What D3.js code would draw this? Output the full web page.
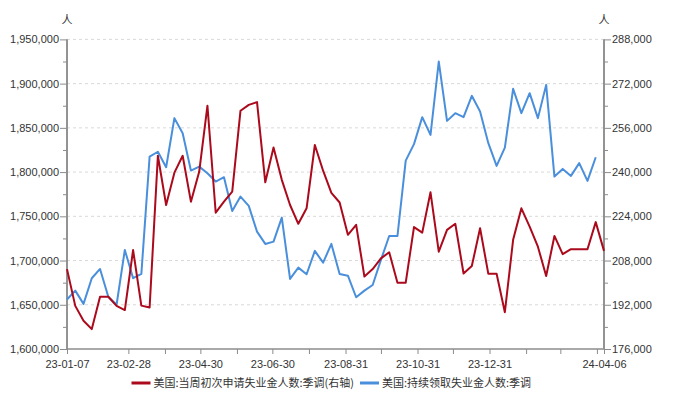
<!DOCTYPE html>
<html>
<head>
<meta charset="utf-8">
<script src="https://cdn.jsdelivr.net/npm/d3@7"></script>
<style>
  body { margin: 0; background: #fff; }
  svg { display: block; font-family: "Noto Sans CJK SC", "Noto Sans", sans-serif; }
  .tick text { fill: #333; font-size: 11px; }
</style>
</head>
<body>
<svg id="chart" width="685" height="396"></svg>
<script>
// weekly dates (Saturday)
const dates = [
  "2023-01-07","2023-01-14","2023-01-21","2023-01-28","2023-02-04","2023-02-11","2023-02-18","2023-02-25",
  "2023-03-04","2023-03-11","2023-03-18","2023-03-25","2023-04-01","2023-04-08","2023-04-15","2023-04-22",
  "2023-04-29","2023-05-06","2023-05-13","2023-05-20","2023-05-27","2023-06-03","2023-06-10","2023-06-17",
  "2023-06-24","2023-07-01","2023-07-08","2023-07-15","2023-07-22","2023-07-29","2023-08-05","2023-08-12",
  "2023-08-19","2023-08-26","2023-09-02","2023-09-09","2023-09-16","2023-09-23","2023-09-30","2023-10-07",
  "2023-10-14","2023-10-21","2023-10-28","2023-11-04","2023-11-11","2023-11-18","2023-11-25","2023-12-02",
  "2023-12-09","2023-12-16","2023-12-23","2023-12-30","2024-01-06","2024-01-13","2024-01-20","2024-01-27",
  "2024-02-03","2024-02-10","2024-02-17","2024-02-24","2024-03-02","2024-03-09","2024-03-16","2024-03-23",
  "2024-03-30","2024-04-06"
];

// 当周初次申请失业金人数 (right axis)
const initialClaims = [
  204900, 191600, 186200, 183200, 194900, 194900, 191600, 190100, 211800, 191700, 191000,
  245900, 228100, 239800, 245900, 229300, 240100, 264000, 225300, 229300, 232900, 262200,
  264300, 265300, 236300, 248900, 237200, 228100, 221300, 226900, 249800, 240500, 232500,
  229000, 217300, 220900, 202200, 204900, 208800, 211000, 200000, 200000, 220100, 218100,
  232700, 211200, 219100, 221300, 203300, 206000, 219700, 203200, 203200, 189300, 215500,
  226900, 220300, 213000, 202400, 216900, 210300, 212100, 212100, 212100, 221900, 211500
];

// 持续领取失业金人数 (left axis)
const continuingClaims = [
  1656000, 1666000, 1651000, 1680000, 1690500, 1659000, 1650000, 1712000, 1680000, 1685000,
  1817500, 1823000, 1805500, 1861000, 1844000, 1801700, 1806200, 1798700, 1789300, 1794200,
  1756100, 1772300, 1761800, 1732700, 1718800, 1721400, 1748500, 1679200, 1692000, 1684500,
  1710900, 1697600, 1718800, 1684800, 1682900, 1658500, 1666000, 1672400, 1700700, 1727800,
  1727800, 1813000, 1831600, 1862100, 1842100, 1925000, 1857900, 1866600, 1862100, 1886200,
  1868400, 1832700, 1807000, 1827700, 1894100, 1866600, 1889200, 1861000, 1898600, 1794900,
  1803600, 1795700, 1810100, 1790000, 1816800
];

const leftTicks = [1600000, 1650000, 1700000, 1750000, 1800000, 1850000, 1900000, 1950000];
const rightTicks = [176000, 192000, 208000, 224000, 240000, 256000, 272000, 288000];
const xTickDates = [
  "2023-01-07","2023-02-28","2023-03-31","2023-04-30","2023-05-31","2023-06-30","2023-07-31",
  "2023-08-31","2023-09-30","2023-10-31","2023-11-30","2023-12-31","2024-01-31","2024-02-29",
  "2024-03-31","2024-04-06"
];
const xLabelDates = ["2023-01-07","2023-02-28","2023-04-30","2023-06-30","2023-08-31","2023-10-31","2023-12-31","2024-04-06"];

const seriesNames = ["美国:当周初次申请失业金人数:季调(右轴)", "美国:持续领取失业金人数:季调"];
const colors = ["#ab0a1c", "#4a8fdb"];

const width = 685, height = 396;
const margin = {top: 39.4, right: 81, bottom: 47, left: 67};

const parse = d3.timeParse("%Y-%m-%d");
const fmtDate = d3.timeFormat("%y-%m-%d");
const dateObjs = dates.map(parse);

const svg = d3.select("#chart");

const x = d3.scaleTime()
  .domain([parse(dates[0]), parse(dates[dates.length - 1])])
  .range([margin.left, width - margin.right]);

const yLeft = d3.scaleLinear()
  .domain([leftTicks[0], leftTicks[leftTicks.length - 1]])
  .range([height - margin.bottom, margin.top]);

const yRight = d3.scaleLinear()
  .domain([rightTicks[0], rightTicks[rightTicks.length - 1]])
  .range([height - margin.bottom, margin.top]);

// grid
svg.append("g")
  .selectAll("line")
  .data(leftTicks.slice(1))
  .enter()
  .append("line")
  .attr("x1", margin.left)
  .attr("x2", width - margin.right)
  .attr("y1", d => yLeft(d))
  .attr("y2", d => yLeft(d))
  .attr("stroke", "#d9d9d9")
  .attr("stroke-dasharray", "3,3")
  .attr("stroke-width", 1);

// minor ticks (half steps)
const leftMinor = d3.range(leftTicks.length - 1).map(i => (leftTicks[i] + leftTicks[i + 1]) / 2);
const rightMinor = d3.range(rightTicks.length - 1).map(i => (rightTicks[i] + rightTicks[i + 1]) / 2);

const axisColor = "#8c8c8c";

const gLeft = svg.append("g")
  .attr("transform", `translate(${margin.left},0)`)
  .call(d3.axisLeft(yLeft).tickValues(leftTicks).tickFormat(d3.format(",")).tickSize(7).tickPadding(1));
gLeft.append("g")
  .call(d3.axisLeft(yLeft).tickValues(leftMinor).tickFormat("").tickSize(4));

const gRight = svg.append("g")
  .attr("transform", `translate(${width - margin.right},0)`)
  .call(d3.axisRight(yRight).tickValues(rightTicks).tickFormat(d3.format(",")).tickSize(7).tickPadding(1));
gRight.append("g")
  .call(d3.axisRight(yRight).tickValues(rightMinor).tickFormat("").tickSize(4));

const gX = svg.append("g")
  .attr("transform", `translate(0,${height - margin.bottom})`)
  .call(d3.axisBottom(x).tickValues(xTickDates.map(parse))
    .tickFormat(d => xLabelDates.includes(d3.timeFormat("%Y-%m-%d")(d)) ? fmtDate(d) : "")
    .tickSize(5).tickPadding(4));

[gLeft, gRight, gX].forEach(g => {
  g.selectAll(".domain").attr("stroke", axisColor).attr("stroke-width", 1.5);
  g.selectAll(".tick line").attr("stroke", axisColor);
});
gX.selectAll(".tick text").attr("dy", "0.9em");
gLeft.selectAll(".domain").attr("d", `M0,${height - margin.bottom}V${margin.top}`);
gRight.selectAll(".domain").attr("d", `M0,${height - margin.bottom}V${margin.top}`);
gX.selectAll(".domain").attr("d", `M${margin.left},0H${width - margin.right}`);

// unit labels
svg.append("text").attr("x", margin.left).attr("y", 24).attr("text-anchor", "middle")
  .style("font-size", "11px").attr("fill", "#333").text("人");
svg.append("text").attr("x", width - margin.right).attr("y", 24).attr("text-anchor", "middle")
  .style("font-size", "11px").attr("fill", "#333").text("人");

// lines
const lineRight = d3.line()
  .x((d, i) => x(dateObjs[i]))
  .y(d => yRight(d));
const lineLeft = d3.line()
  .x((d, i) => x(dateObjs[i]))
  .y(d => yLeft(d));

svg.append("path")
  .datum(continuingClaims)
  .attr("d", lineLeft)
  .attr("fill", "none")
  .attr("stroke", colors[1])
  .attr("stroke-width", 2)
  .attr("stroke-linejoin", "round");

svg.append("path")
  .datum(initialClaims)
  .attr("d", lineRight)
  .attr("fill", "none")
  .attr("stroke", colors[0])
  .attr("stroke-width", 2)
  .attr("stroke-linejoin", "round");

// legend
const legendX = [131.5, 360];
const legend = svg.append("g");
seriesNames.forEach((name, i) => {
  legend.append("line")
    .attr("x1", legendX[i]).attr("x2", legendX[i] + 19)
    .attr("y1", 383).attr("y2", 383)
    .attr("stroke", colors[i]).attr("stroke-width", 3);
  legend.append("text")
    .attr("x", legendX[i] + 22).attr("y", 383)
    .attr("dy", "0.35em")
    .style("font-size", "11px")
    .attr("fill", "#333")
    .text(name);
});
</script>
</body>
</html>
